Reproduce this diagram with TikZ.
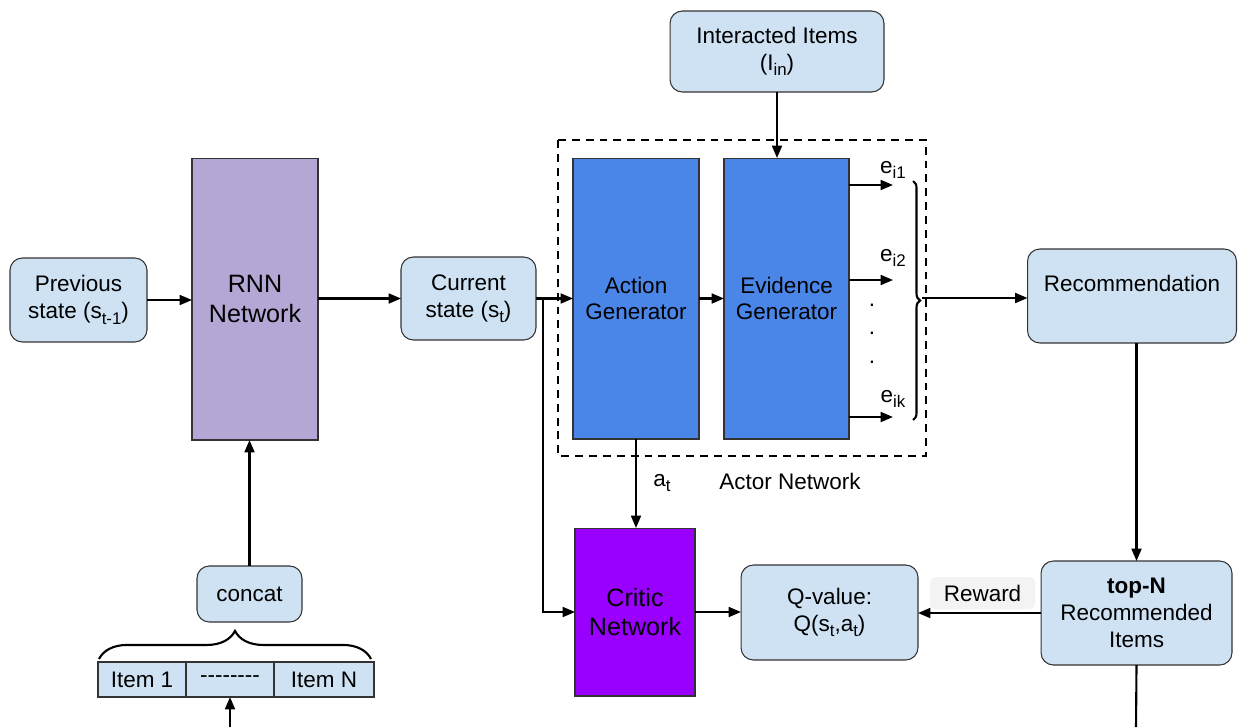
\documentclass[tikz,border=0pt]{standalone}
\usepackage{fontspec}
\setmainfont{Liberation Sans}[Ligatures=TeXOff]
\usetikzlibrary{arrows.meta,decorations.pathreplacing}

\definecolor{paleblue}{HTML}{CFE2F3}
\definecolor{lilac}{HTML}{B4A7D6}
\definecolor{genblue}{HTML}{4A86E8}
\definecolor{violet}{HTML}{9900FF}
\definecolor{palegray}{HTML}{F3F3F3}

% low, fairly large subscript
\newcommand\lowsub[1]{\raisebox{-0.45ex}{\fontsize{9.6}{11}\selectfont #1}}

\tikzset{
  box/.style={draw=black!80,line width=0.6pt,outer sep=0pt,inner sep=1pt,align=center,
    font=\fontsize{12.8}{15.3}\selectfont},
  soft/.style={box,rounded corners=7pt,fill=paleblue},
  block/.style={box,font=\fontsize{14.3}{17}\selectfont},
  flow/.style={line width=1.2pt,-{Triangle[length=7pt,width=5.6pt]}},
  plain/.style={line width=1.2pt},
  tag/.style={inner sep=0pt,font=\fontsize{12.8}{15.3}\selectfont}
}

\begin{document}
\begin{tikzpicture}[x=0.02cm,y=-0.02cm]
\useasboundingbox (0,0) rectangle (1239,727);

% left part: state update
\node[soft,minimum width=2.74cm,minimum height=1.68cm] (prev) at (78.5,300) {Previous\\state (s\lowsub{t-1})};
\node[block,fill=lilac,minimum width=2.52cm,minimum height=5.64cm] (rnn) at (255,299) {RNN\\Network};
\node[soft,minimum width=2.7cm,minimum height=1.66cm] (cur) at (468.5,298.5) {Current\\state (s\lowsub{t})};
\node[soft,minimum width=2.1cm,minimum height=1.12cm] (concat) at (249.5,594) {concat};
\node[box,fill=paleblue,minimum width=1.76cm,minimum height=0.7cm] (item1) at (142,679.5) {Item 1};
\node[box,fill=paleblue,minimum width=1.76cm,minimum height=0.7cm] (itemdots) at (230,679.5) {--------};
\node[box,fill=paleblue,minimum width=2cm,minimum height=0.7cm] (itemn) at (324,679.5) {Item N};

% actor
\draw[line width=1.2pt,dash pattern=on 4.5pt off 3.4pt] (558,140) rectangle (926,456);
\node[block,fill=genblue,minimum width=2.52cm,minimum height=5.62cm,font=\fontsize{12.8}{15.3}\selectfont] (actgen) at (636,298.5) {Action\\Generator};
\node[block,fill=genblue,minimum width=2.5cm,minimum height=5.62cm,font=\fontsize{12.8}{15.3}\selectfont] (evigen) at (786.5,298.5) {Evidence\\Generator};
\node[soft,minimum width=4.28cm,minimum height=1.62cm] (inter) at (777,51.5) {Interacted Items\\(I\lowsub{in})};
\node[tag] (actorlbl) at (790,481) {Actor Network};

% critic and reward
\node[block,fill=violet,minimum width=2.4cm,minimum height=3.36cm] (critic) at (635,612) {Critic\\Network};
\node[soft,minimum width=3.54cm,minimum height=1.9cm] (qval) at (829.5,612.5) {Q-value:\\Q(s\lowsub{t},a\lowsub{t})};
\node[soft,minimum width=4.18cm,minimum height=1.88cm,text height=0.32cm,text depth=0.52cm] (rec) at (1132,296) {Recommendation};
\node[soft,minimum width=3.82cm,minimum height=2.08cm] (topn) at (1136.5,613) {\textbf{top-N}\\Recommended\\Items};
\node[tag,fill=palegray,rounded corners=3pt,minimum width=2.1cm,minimum height=0.64cm] (reward) at (982.5,593) {Reward};
\node[tag] (at) at (662,483) {a\lowsub{t}};

% evidence outputs
\coordinate (e1) at (893,185);
\coordinate (e2) at (893,280);
\coordinate (ek) at (893,417);
\node[tag] (e1lbl) at (893,170) {e\lowsub{i1}};
\node[tag] (e2lbl) at (893,258) {e\lowsub{i2}};
\node[tag] (eklbl) at (893,399) {e\lowsub{ik}};
\foreach \y/\n in {305/d1,333/d2,362/d3}
  \node[tag] (\n) at (872,\y) {.};
\foreach \e in {e1,e2,ek}
  \draw[flow] (evigen.east |- \e) -- (\e);
\draw[plain,decorate,decoration={brace,amplitude=4pt}] (913,181) -- (913,420);
\coordinate (brtip) at (922,298);

% connectors
\coordinate (split) at (543,297);
\coordinate (itemin) at (230,727);
\coordinate (out) at (1136,727);
\draw[flow] (prev.east) -- (prev.east -| rnn.west);
\draw[flow] (rnn.east |- cur.west) -- (cur.west);
\draw[flow] (cur.east) -- (cur.east -| actgen.west);
\draw[flow] (split) |- (critic.west);
\draw[flow] (actgen.east) -- (evigen.west);
\draw[flow] (inter.south) -- (inter.south |- evigen.north);
\draw[flow] (brtip) -- (brtip -| rec.west);
\draw[flow] (topn.north |- rec.south) -- (topn.north);
\draw[plain] (topn.south) -- (out);
\draw[flow] (topn.west) -- (topn.west -| qval.east);
\draw[flow] (critic.east) -- (critic.east -| qval.west);
\draw[flow] (actgen.south) -- (actgen.south |- critic.north);
\draw[flow] (concat.north) -- (concat.north |- rnn.south);
\draw[flow] (itemin) -- (itemdots.south);
\draw[plain,decorate,decoration={brace,amplitude=16pt}] (99,659) -- (371,659);
\end{tikzpicture}
\end{document}
